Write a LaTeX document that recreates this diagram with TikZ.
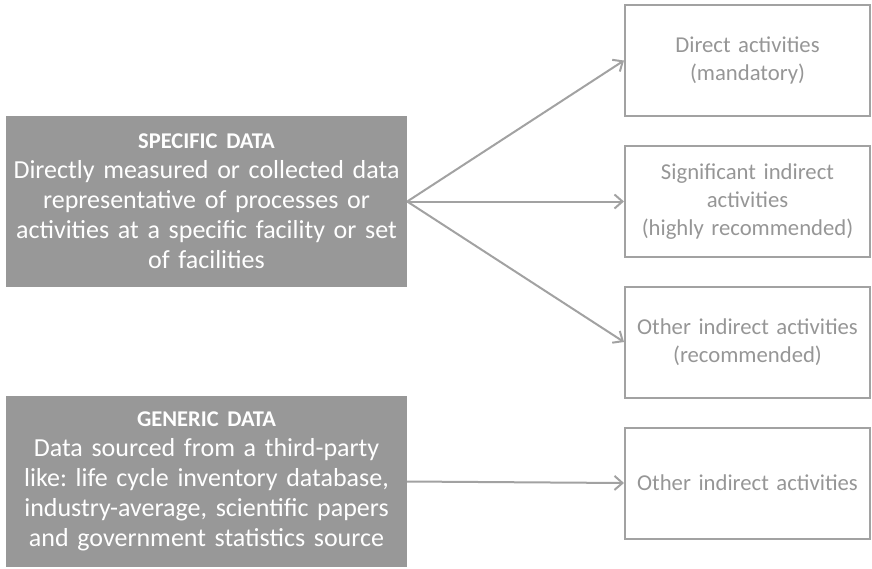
\documentclass[tikz,border=0pt]{standalone}
\usepackage{fontspec}
\setmainfont{Carlito}
\frenchspacing
\usetikzlibrary{arrows.meta}
\definecolor{boxgray}{HTML}{989898}
\definecolor{linegray}{HTML}{A2A2A2}
\definecolor{textgray}{HTML}{969696}
\tikzset{
  databox/.style={fill=boxgray, text=white, minimum width=401pt, minimum height=171pt,
    text width=398pt, align=center, inner sep=0pt, font=\fontsize{26}{30}\selectfont},
  actbox/.style={draw=linegray, line width=2pt, text=textgray, minimum width=245pt,
    minimum height=111pt, text width=242pt, align=center, inner sep=0pt,
    font=\fontsize{22.7}{28}\selectfont},
  link/.style={linegray, line width=2pt, -{Straight Barb[length=8pt,width=14pt]}}
}
\newcommand{\headtxt}[1]{{\fontsize{22.5}{22}\bfseries #1}}

\begin{document}
\begin{tikzpicture}[x=1pt,y=-1pt]
    \useasboundingbox (0,0) rectangle (872,568);
    % data sources
    \node[databox] (spec) at (206.5,201.5) {\headtxt{SPECIFIC DATA}\\
      Directly measured or collected data\\ representative of processes or\\
      activities at a specific facility or set\\ of facilities};
    \node[databox] (gen) at (206.5,481.5) {\headtxt{GENERIC DATA}\\
      Data sourced from a third-party\\ like: life cycle inventory database,\\
      industry-average, scientific papers\\ and government statistics source};
    % activities
    \node[actbox] (dir) at (747.5,60.5) {Direct activities\\ (mandatory)};
    \node[actbox] (sig) at (747.5,201.5) {Significant indirect\\ activities\\ (highly recommended)};
    \node[actbox] (oth) at (747.5,342) {Other indirect activities\\ (recommended)};
    \node[actbox] (othg) at (747.5,483) {Other indirect activities};
    \draw[link] (spec.east) -- (dir.west);
    \draw[link] (spec.east) -- (sig.west);
    \draw[link] (spec.east) -- (oth.west);
    \draw[link] (gen.east) -- (othg.west);
\end{tikzpicture}
\end{document}
